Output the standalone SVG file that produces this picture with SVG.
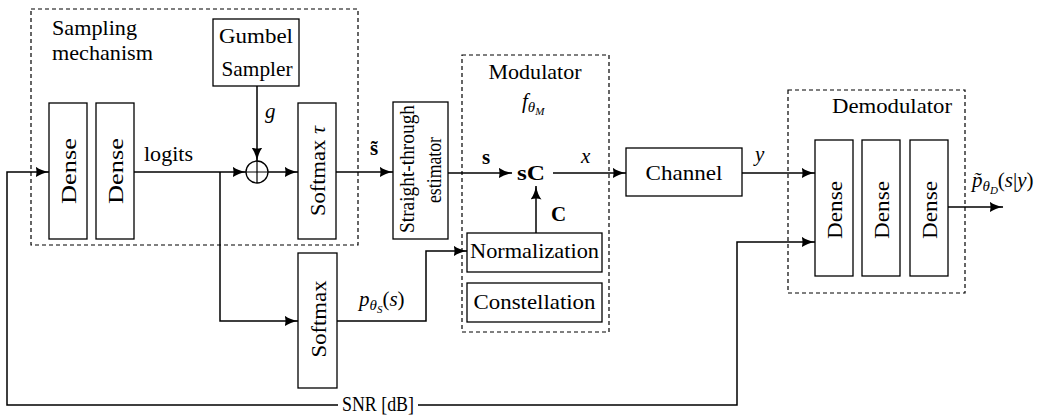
<svg xmlns="http://www.w3.org/2000/svg" width="1050" height="415" viewBox="0 0 1050 415" font-family="'Liberation Serif', serif">
<style>
text{font-family:"Liberation Serif","DejaVu Serif",serif;font-size:21px;fill:#000}
.m{font-style:italic}
.b{font-weight:bold}
.mid{text-anchor:middle}
.box{fill:#fff;stroke:#000;stroke-width:1.3}
.grp{fill:none;stroke:#000;stroke-width:1.2;stroke-dasharray:4 3}
.wire{fill:none;stroke:#000;stroke-width:1.5}
.arr{marker-end:url(#ah)}
</style>
<defs>
<marker id="ah" viewBox="0 0 14 11" refX="13.5" refY="5.5" markerWidth="14" markerHeight="11" markerUnits="userSpaceOnUse" orient="auto">
<path d="M0,0 Q5,4 14,5.5 Q5,7 0,11 Q2,5.5 0,0Z" fill="#000"/>
</marker>
</defs>
<rect width="1050" height="415" fill="#fff"/>

<g id="sampling-mechanism">
<rect class="grp" x="31" y="9" width="327" height="236"/>
<text x="52" y="35" textLength="85" lengthAdjust="spacingAndGlyphs">Sampling</text>
<text x="52" y="60" textLength="101" lengthAdjust="spacingAndGlyphs">mechanism</text>
</g>
<g id="gumbel">
<rect class="box" x="213" y="19" width="86" height="67"/>
<text class="mid" x="256" y="43" textLength="74" lengthAdjust="spacingAndGlyphs">Gumbel</text>
<text class="mid" x="257" y="76" textLength="71" lengthAdjust="spacingAndGlyphs">Sampler</text>
</g>
<g id="dense1">
<rect class="box" x="49" y="103" width="38" height="136"/>
<text class="mid" transform="translate(76,171) rotate(-90)" font-size="24" textLength="66" lengthAdjust="spacingAndGlyphs">Dense</text>
</g>
<g id="dense2">
<rect class="box" x="96" y="103" width="38" height="136"/>
<text class="mid" transform="translate(123,171) rotate(-90)" font-size="24" textLength="66" lengthAdjust="spacingAndGlyphs">Dense</text>
</g>
<g id="adder">
<circle cx="257" cy="172" r="11" fill="#fff" stroke="#000" stroke-width="1.3"/>
<path d="M246,172H268M257,161V183" stroke="#000" stroke-width="1.2"/>
</g>
<g id="softmax-tau">
<rect class="box" x="298" y="103" width="38" height="136"/>
<text class="mid" transform="translate(325,171) rotate(-90)" font-size="22" textLength="90" lengthAdjust="spacingAndGlyphs">Softmax <tspan class="m">τ</tspan></text>
</g>
<g id="softmax">
<rect class="box" x="298" y="253" width="39" height="135"/>
<text class="mid" transform="translate(326,319) rotate(-90)" font-size="22" textLength="77" lengthAdjust="spacingAndGlyphs">Softmax</text>
</g>
<g id="straight-through">
<rect class="box" x="393" y="102" width="55" height="137"/>
<text class="mid" transform="translate(414,169) rotate(-90)" font-size="17" textLength="128" lengthAdjust="spacingAndGlyphs">Straight-through</text>
<text class="mid" transform="translate(441,170) rotate(-90)" font-size="17" textLength="66" lengthAdjust="spacingAndGlyphs">estimator</text>
</g>
<g id="modulator">
<rect class="grp" x="462" y="55" width="147" height="277"/>
<text class="mid" x="535" y="79" textLength="93" lengthAdjust="spacingAndGlyphs">Modulator</text>
<text class="m" x="522" y="108" font-size="22">f<tspan font-size="15" dy="4">θ</tspan><tspan font-size="11" dy="3">M</tspan></text>
<text class="b" x="517" y="180" font-size="22" textLength="28" lengthAdjust="spacingAndGlyphs">sC</text>
</g>
<g id="normalization">
<rect class="box" x="467" y="233" width="135" height="39"/>
<text class="mid" x="534.5" y="258" textLength="129" lengthAdjust="spacingAndGlyphs">Normalization</text>
</g>
<g id="constellation">
<rect class="box" x="467" y="283" width="135" height="39"/>
<text class="mid" x="534.5" y="309" textLength="122" lengthAdjust="spacingAndGlyphs">Constellation</text>
</g>
<g id="channel">
<rect class="box" x="626" y="148" width="116" height="48"/>
<text class="mid" x="684" y="180" textLength="77" lengthAdjust="spacingAndGlyphs">Channel</text>
</g>
<g id="demodulator">
<rect class="grp" x="788" y="90" width="177" height="203"/>
<text class="mid" x="892" y="113" textLength="120" lengthAdjust="spacingAndGlyphs">Demodulator</text>
</g>
<g id="ddense1">
<rect class="box" x="815" y="140" width="38" height="136"/>
<text class="mid" transform="translate(842,210) rotate(-90)" font-size="22" textLength="58" lengthAdjust="spacingAndGlyphs">Dense</text>
</g>
<g id="ddense2">
<rect class="box" x="862" y="140" width="38" height="136"/>
<text class="mid" transform="translate(889,210) rotate(-90)" font-size="22" textLength="58" lengthAdjust="spacingAndGlyphs">Dense</text>
</g>
<g id="ddense3">
<rect class="box" x="910" y="140" width="38" height="136"/>
<text class="mid" transform="translate(937,210) rotate(-90)" font-size="22" textLength="58" lengthAdjust="spacingAndGlyphs">Dense</text>
</g>

<g id="connectors">
<path class="wire arr" d="M338,405H7V172H49"/>
<path class="wire arr" d="M418,405H737V242H815"/>
<path class="wire arr" d="M134,172H246"/>
<path class="wire arr" d="M220,172V321H298"/>
<path class="wire arr" d="M257,86V161"/>
<path class="wire arr" d="M268,172H298"/>
<path class="wire arr" d="M336,172H393"/>
<path class="wire arr" d="M448,173H512"/>
<path class="wire arr" d="M553,173H626"/>
<path class="wire arr" d="M536,233V186"/>
<path class="wire arr" d="M337,321H426V251H467"/>
<path class="wire arr" d="M742,173H815"/>
<path class="wire arr" d="M948,207H1003"/>
<text x="144" y="161" font-size="22" textLength="49" lengthAdjust="spacingAndGlyphs">logits</text>
<text class="m" x="265" y="118" font-size="22">g</text>
<text class="b" x="370" y="155" font-size="22">s̃</text>
<text class="b" x="482" y="164" font-size="22">s</text>
<text class="m" x="581" y="163" font-size="22">x</text>
<text class="b" x="551" y="221" font-size="22">C</text>
<text class="m" x="755" y="161" font-size="22">y</text>
<text class="m" x="359" y="306" font-size="22">p<tspan font-size="15" dy="4">θ</tspan><tspan font-size="11" dy="3">S</tspan><tspan font-style="normal" dy="-7">(</tspan>s<tspan font-style="normal">)</tspan></text>
<text class="m" x="972" y="187" font-size="22">p̃<tspan font-size="15" dy="4">θ</tspan><tspan font-size="11" dy="3">D</tspan><tspan font-style="normal" dy="-7">(</tspan>s<tspan font-style="normal">|</tspan>y<tspan font-style="normal">)</tspan></text>
<text class="mid" x="378" y="411" font-size="19" textLength="72" lengthAdjust="spacingAndGlyphs">SNR [dB]</text>
</g>
</svg>
